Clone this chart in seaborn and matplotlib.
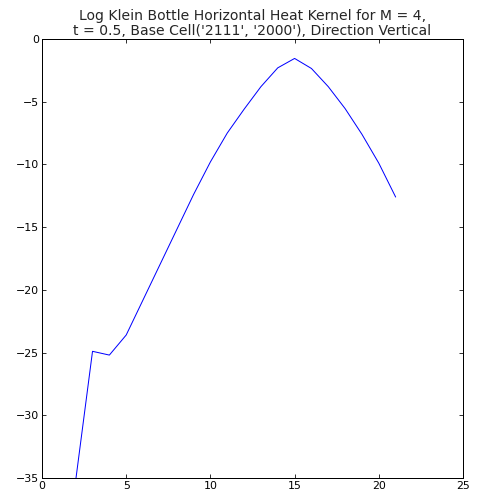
import numpy as np
import pandas as pd
import seaborn as sns
import matplotlib
matplotlib.use("Agg")
import matplotlib.pyplot as plt

# values
steps = [2, 3, 4, 5, 6, 7, 8, 9, 10, 11, 12, 13, 14, 15, 16, 17, 18, 19, 20, 21]
log_kernel = [-35.2, -24.9, -25.2, -23.6, -20.8, -18.0, -15.2, -12.4, -9.8, -7.5,
              -5.6, -3.8, -2.3, -1.55, -2.35, -3.8, -5.55, -7.6, -9.9, -12.6]

df = pd.DataFrame({"step": steps, "log_kernel": log_kernel})

sns.set_style("ticks")
plt.rcParams["font.family"] = ["DejaVu Sans"]
plt.rcParams["xtick.direction"] = "in"
plt.rcParams["ytick.direction"] = "in"
plt.rcParams["xtick.top"] = True
plt.rcParams["ytick.right"] = True

fig = plt.figure(figsize=(478 / 72, 495 / 72), dpi=72)
ax = fig.add_axes([42 / 478, 17 / 495, 421 / 478, 439 / 495])
sns.lineplot(data=df, x="step", y="log_kernel", color="#0000ff", linewidth=1.0, ax=ax)

ax.set_xlim(0, 25)
ax.set_ylim(-35, 0)
ax.set_xticks([0, 5, 10, 15, 20, 25])
ax.set_yticks([-35, -30, -25, -20, -15, -10, -5, 0])
ax.set_xlabel("")
ax.set_ylabel("")
ax.tick_params(labelsize=11, length=4, width=0.8, colors="black", pad=3)
for s in ax.spines.values():
    s.set_visible(True)
    s.set_color("black")
    s.set_linewidth(1.0)
ax.set_title("Log Klein Bottle Horizontal Heat Kernel for M = 4,\n"
             "t = 0.5, Base Cell('2111', '2000'), Direction Vertical",
             fontsize=14, pad=4, linespacing=1.05)

fig.savefig("out.png", dpi=72)
